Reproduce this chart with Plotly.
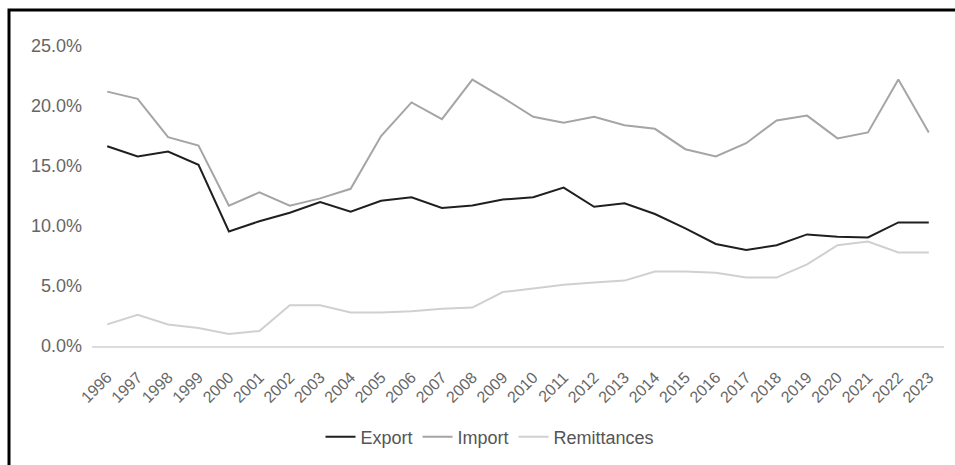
import plotly.graph_objects as go

years = [str(y) for y in range(1996, 2024)]
export = [16.65, 15.8, 16.2, 15.1, 9.55, 10.4, 11.1, 12.0, 11.2, 12.1, 12.4, 11.5, 11.7, 12.2,
          12.4, 13.2, 11.6, 11.9, 11.0, 9.8, 8.5, 8.0, 8.4, 9.3, 9.1, 9.05, 10.3, 10.3]
imports = [21.2, 20.6, 17.4, 16.7, 11.7, 12.8, 11.7, 12.3, 13.1, 17.5, 20.3, 18.9, 22.2, 20.7,
           19.1, 18.6, 19.1, 18.4, 18.1, 16.4, 15.8, 16.9, 18.8, 19.2, 17.3, 17.8, 22.2, 17.8]
remit = [1.8, 2.6, 1.8, 1.5, 1.0, 1.25, 3.4, 3.4, 2.8, 2.8, 2.9, 3.1, 3.2, 4.5,
         4.8, 5.1, 5.3, 5.45, 6.2, 6.2, 6.1, 5.7, 5.7, 6.8, 8.4, 8.7, 7.8, 7.8]
y_ticks = [0, 5, 10, 15, 20, 25]

FONT = "Liberation Sans, Arial, sans-serif"

fig = go.Figure()
fig.add_trace(go.Scatter(x=years, y=export, name="Export", mode="lines",
                         line=dict(color="#1f1f1f", width=2)))
fig.add_trace(go.Scatter(x=years, y=imports, name="Import", mode="lines",
                         line=dict(color="#a5a5a5", width=2)))
fig.add_trace(go.Scatter(x=years, y=remit, name="Remittances", mode="lines",
                         line=dict(color="#d0d0d0", width=2)))

L, R, T, B = 92, 11, 46, 118
W, H = 955, 465
pw, ph = W - L - R, H - T - B

def px(xp):
    return (xp - L) / pw

def py(yp):
    return (H - B - yp) / ph

fig.update_layout(
    width=W, height=H,
    margin=dict(l=L, r=R, t=T, b=B, pad=0),
    paper_bgcolor="white", plot_bgcolor="white",
    font=dict(family=FONT, color="#666666"),
    showlegend=True,
    legend=dict(orientation="h", x=px(490), xanchor="center", y=py(437), yanchor="middle",
                font=dict(size=18, color="#555555"), bgcolor="rgba(0,0,0,0)"),
    xaxis=dict(type="category", range=[-0.5, len(years) - 0.5], tickangle=-45,
               showgrid=False, zeroline=False, showline=True, linecolor="#dcdcdc", linewidth=1.5,
               ticks="", ticklabelstandoff=14, tickfont=dict(size=16, color="#666666")),
    yaxis=dict(range=[0, 25], tickvals=y_ticks, ticktext=[f"{v:.1f}%" for v in y_ticks],
               showgrid=False, zeroline=False, showline=False, ticks="",
               ticklabelstandoff=9, tickfont=dict(size=18, color="#666666")),
    shapes=[dict(type="rect", xref="paper", yref="paper",
                 x0=px(9), x1=px(965), y0=py(480), y1=py(10),
                 line=dict(color="black", width=3), layer="above")],
)

fig.write_html("out.html")
